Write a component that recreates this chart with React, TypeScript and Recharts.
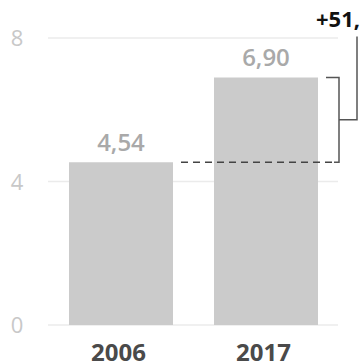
import { BarChart, Bar, XAxis, YAxis, CartesianGrid, LabelList } from 'recharts';

const years = ['2006', '2017'];
const values = [4.54, 6.9];
const yTicks = [0, 4, 8];
const changeLabel = '+51,9%';

const data = years.map((year, i) => ({ year, value: values[i] }));

const fmt = (v: number) => v.toFixed(2).replace('.', ',');

const YTick = (props: any) => {
  const { y, payload } = props;
  return (
    <text x={17} y={y + 8} textAnchor="middle" fill="#c8c8c8" fontSize={22} fontFamily="Open Sans">
      {payload.value}
    </text>
  );
};

const XTick = (props: any) => {
  const { x, y, payload } = props;
  return (
    <text x={x - 2} y={y + 28} textAnchor="middle" fill="#4a4a4a" fontSize={24} fontWeight={700} fontFamily="Open Sans">
      {payload.value}
    </text>
  );
};

// bracket showing the change from the first to the last bar
const Bracket = (props: any) => {
  const { x, y, width, height, index, value } = props;
  if (index !== values.length - 1) return null;
  const right = x + width;
  const yBase = y + height - (height * values[0]) / value;
  const yMid = (y + yBase) / 2;
  const bx = right + 21;
  const ox = right + 39;
  return (
    <g>
      <line x1={x - 33} y1={yBase} x2={bx - 5} y2={yBase} stroke="#444" strokeWidth={1.5} strokeDasharray="7 5" />
      <polyline
        points={`${bx - 5},${yBase} ${bx},${yBase} ${bx},${y} ${right + 8},${y}`}
        fill="none"
        stroke="#555"
        strokeWidth={1.5}
      />
      <polyline points={`${bx},${yMid} ${ox},${yMid} ${ox},${y - 41}`} fill="none" stroke="#555" strokeWidth={1.5} />
      <text x={right - 2} y={y - 50} fill="#111" fontSize={22} fontWeight={700} fontFamily="Open Sans">
        {changeLabel}
      </text>
    </g>
  );
};

export default function App() {
  return (
    <div style={{ position: 'absolute', left: 0, top: 0, width: 360, height: 363, background: '#fff' }}>
      <BarChart width={360} height={363} data={data} margin={{ top: 38, right: 22, left: 0, bottom: 0 }} barSize={104}>
        <CartesianGrid vertical={false} stroke="#ebebeb" strokeWidth={1.5} />
        <XAxis dataKey="year" axisLine={false} tickLine={false} height={38} tick={<XTick />} interval={0} />
        <YAxis
          domain={[0, 8]}
          ticks={yTicks}
          width={48}
          axisLine={false}
          tickLine={false}
          tick={<YTick />}
        />
        <Bar dataKey="value" fill="#cbcbcb" isAnimationActive={false}>
          <LabelList
            dataKey="value"
            position="top"
            offset={11}
            formatter={(v: any) => fmt(Number(v))}
            fill="#a9a9a9"
            fontSize={24}
            fontWeight={600}
            fontFamily="Open Sans"
          />
          <LabelList dataKey="value" content={<Bracket />} />
        </Bar>
      </BarChart>
    </div>
  );
}
